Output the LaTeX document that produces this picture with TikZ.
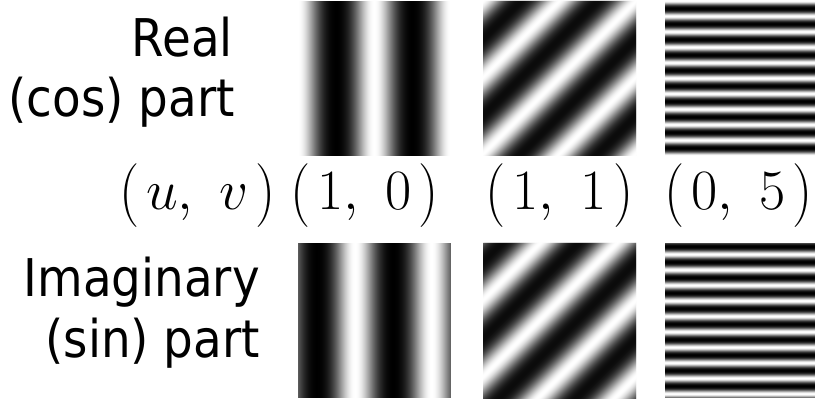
\RequirePackage{fix-cm}
\documentclass[tikz,border=0pt]{standalone}
\usepackage{graphicx}
\usepackage{fontspec}
\newfontfamily\labfont[FakeStretch=0.9]{DejaVu Sans}
\tikzset{
  labtxt/.style={inner sep=0pt, font=\labfont\fontsize{52}{60}\selectfont},
  mathtxt/.style={inner sep=0pt, font=\fontsize{57}{64}\selectfont},
}
% slightly taller parentheses
\newcommand\lparen{\mathopen{\raisebox{-0.03em}{\scalebox{1}[1.12]{$($}}}}
\newcommand\rparen{\mathclose{\raisebox{-0.03em}{\scalebox{1}[1.12]{$)$}}}}
\newcommand\pair[2]{$\lparen\hspace{0.12em}#1,\hspace{0.3em}#2\hspace{0.12em}\rparen$}
% shade from cosine value c in [-1,1]
\newcommand\gshade[1]{%
  \pgfmathsetmacro\gg{(1+(#1))/2}%
  \pgfmathsetmacro\kk{max(0,min(100,100*(1-(0.5*\gg+0.5*\gg*\gg))))}%
}
% vertical stripes: x0 y0 W H expr(\t)
\newcommand\vgrat[5]{%
  \begin{scope}
    \clip (#1,#2) rectangle ++(#3,#4);
    \pgfmathtruncatemacro\nn{#3-1}%
    \foreach \i in {0,...,\nn} {
      \pgfmathsetmacro\t{\i+0.5}%
      \pgfmathsetmacro\cc{#5}%
      \gshade{\cc}%
      \fill[black!\kk] (#1+\i,#2) rectangle ++(1.4,#4);
    }
  \end{scope}}
% horizontal stripes
\newcommand\hgrat[5]{%
  \begin{scope}
    \clip (#1,#2) rectangle ++(#3,#4);
    \pgfmathtruncatemacro\nn{#4-1}%
    \foreach \i in {0,...,\nn} {
      \pgfmathsetmacro\t{\i+0.5}%
      \pgfmathsetmacro\cc{#5}%
      \gshade{\cc}%
      \fill[black!\kk] (#1,#2+\i) rectangle ++(#3,1.4);
    }
  \end{scope}}
% diagonal stripes (x+y = const)
\newcommand\dgrat[5]{%
  \begin{scope}
    \clip (#1,#2) rectangle ++(#3,#4);
    \pgfmathtruncatemacro\nn{#3+#4}%
    \foreach \i in {0,...,\nn} {
      \pgfmathsetmacro\t{\i+0.5}%
      \pgfmathsetmacro\cc{#5}%
      \gshade{\cc}%
      \fill[black!\kk] (#1+\i,#2) -- ++(1.4,0) -- ++(-170,170) -- ++(-1.4,0) -- cycle;
    }
  \end{scope}}
\begin{document}
\begin{tikzpicture}[x=1pt,y=-1pt]
\useasboundingbox (0,0) rectangle (815,401);
\fill[white] (0,0) rectangle (815,401);

% real (cos) row
\vgrat{298}{1}{153}{155}{cos(4.70588*\t)}
\dgrat{483}{1}{153}{155}{cos(4.70588*\t)}
\hgrat{665}{1}{150}{155}{cos(23.2258*\t)}

% imaginary (sin) row
\vgrat{298}{243}{153}{155}{-sin(4.70588*\t)}
\dgrat{483}{243}{153}{155}{-sin(4.70588*\t)}
\hgrat{665}{243}{150}{155}{-sin(23.2258*\t)}

% labels
\node[labtxt, anchor=base east] (real) at (233,57) {Real};
\node[labtxt, anchor=base east] (cospart) at (235,117) {(cos) part};
\node[labtxt, anchor=base east] (imag) at (260,297) {Imaginary};
\node[labtxt, anchor=base east] (sinpart) at (260,357) {(sin) part};

\node[mathtxt, anchor=base west] (uv) at (119,210) {\pair{u}{v}};
\node[mathtxt, anchor=base west] (f10) at (290,210) {\pair{1}{0}};
\node[mathtxt, anchor=base west] (f11) at (485,210) {\pair{1}{1}};
\node[mathtxt, anchor=base west] (f05) at (664,210) {\pair{0}{5}};
\end{tikzpicture}
\end{document}
